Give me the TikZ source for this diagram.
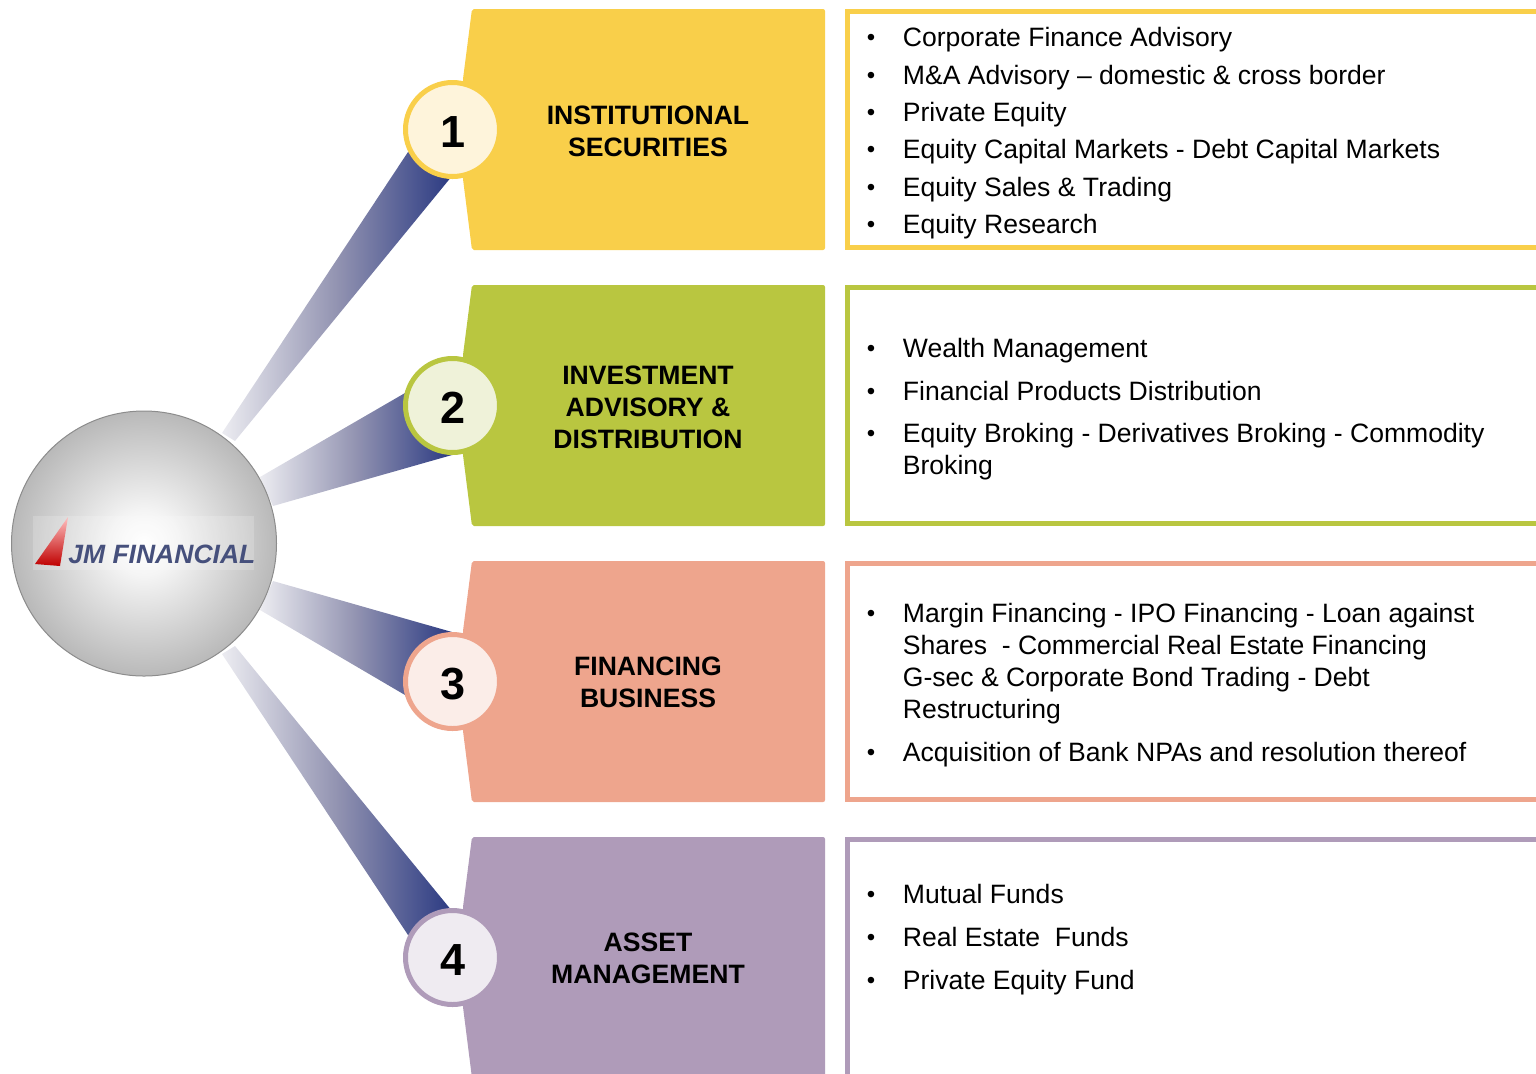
\documentclass[tikz,border=0pt]{standalone}
\usepackage{fontspec}
\setmainfont{Liberation Sans}
\usetikzlibrary{shadings}
\definecolor{cA}{HTML}{F9CF4A}\definecolor{cAl}{HTML}{FEF4DB}
\definecolor{cB}{HTML}{B9C640}\definecolor{cBl}{HTML}{EFF2D9}
\definecolor{cC}{HTML}{EEA58D}\definecolor{cCl}{HTML}{FBEDE8}
\definecolor{cD}{HTML}{AF9BB9}\definecolor{cDl}{HTML}{EFEBF1}
\definecolor{wdark}{HTML}{2B3A82}\definecolor{wmid}{HTML}{9293B1}\definecolor{wlight}{HTML}{ECECF1}
\definecolor{logoblue}{HTML}{46507C}
\pgfdeclareradialshading{spherefill}{\pgfpoint{0bp}{0bp}}{color(0bp)=(white); color(6bp)=(white!96!black); color(27bp)=(black!30); color(50bp)=(black!31)}
\tikzset{
 x=0.5pt,y=-0.5pt,
 wedge/.style={left color=wlight,right color=wdark,middle color=wmid,draw=none},
 tab/.style={fill=#1,draw=none,rounded corners=1pt},
 panel/.style={draw=#1,line width=2.5pt,fill=white},
 badge/.style n args={2}{circle,draw=#1,fill=#2,line width=2.5pt,minimum size=47pt,inner sep=0pt,font=\bfseries\fontsize{22.5pt}{24pt}\selectfont},
 title/.style={align=center,inner sep=0pt,font=\bfseries\fontsize{13.3pt}{16pt}\selectfont},
 itemtext/.style={anchor=base west,inner sep=0pt,font=\fontsize{13.28pt}{16pt}\selectfont},
 bul/.style={anchor=base,inner sep=0pt,font=\fontsize{12pt}{16pt}\selectfont},
}
\newcommand{\dg}[1]{\kern0.4pt\raisebox{-1.25pt}[\height][\depth]{#1}}
\begin{document}
\begin{tikzpicture}
\useasboundingbox (0,0) rectangle (1536,1073);
\clip (0,0) rectangle (1536,1073);
% wedges
\shade[wedge] (222,433) -- (408,152) -- (452,176) -- (235,441) -- cycle;
\shade[wedge] (260,477) -- (405,393) -- (452,455) -- (273,506) -- cycle;
\shade[wedge] (273,581) -- (452,632) -- (405,695) -- (260,610) -- cycle;
\shade[wedge] (222,654) -- (408,935) -- (452,911) -- (235,646) -- cycle;
% tabs
\foreach \t/\c in {9/cA,285/cB,561/cC,837/cD}{
 \fill[tab=\c] (472,\t) -- (825,\t) -- (825,\t+241) -- (472,\t+241) -- (463,\t+170) -- (463,\t+70) -- cycle;
}
% panels
\draw[panel=cA] (847.5,11.5) rectangle (1550,247.5);
\draw[panel=cB] (847.5,287.5) rectangle (1550,523.5);
\draw[panel=cC] (847.5,563.5) rectangle (1550,799.5);
\draw[panel=cD] (847.5,839.5) rectangle (1550,1085);
% sphere
\path[shading=spherefill,draw=black!45,line width=0.5pt] (144,543.5) circle [radius=132.5];
\node[name=sphere,circle,minimum size=132.5pt,inner sep=0pt] at (144,543.5) {};
% logo
\fill[white,opacity=.18] (33,516) rectangle (254,570);
\shade[top color=red!25!white,bottom color=red!75!black] (68,517) -- (35,564) -- (60,566) -- cycle;
\node[name=logo,anchor=base west,inner sep=0pt,text=logoblue,font=\bfseries\itshape\fontsize{13.25pt}{14pt}\selectfont] at (68,563) {JM FINANCIAL};
% badges
\node[badge={cA}{cAl},name=b1] at (452.5,129.5) {\dg{1}};
\node[badge={cB}{cBl},name=b2] at (452.5,405.5) {\dg{2}};
\node[badge={cC}{cCl},name=b3] at (452.5,681.5) {\dg{3}};
\node[badge={cD}{cDl},name=b4] at (452.5,957.5) {\dg{4}};
% titles
\node[title,name=t1] at (648,131.5) {INSTITUTIONAL\\SECURITIES};
\node[title,name=t2] at (648,407.5) {INVESTMENT\\ADVISORY \&\\DISTRIBUTION};
\node[title,name=t3] at (648,682.5) {FINANCING\\BUSINESS};
\node[title,name=t4] at (648,958.5) {ASSET\\MANAGEMENT};
% bullets
\foreach \y in {45,83,120,157,195,232,356,399,441,621,760,902,945,988}{
 \node[bul] at (871,\y) {•};
}
% list text
\node[itemtext] at (902.5,46) {Corporate Finance Advisory};
\node[itemtext] at (902.5,84) {M\&A Advisory – domestic \& cross border};
\node[itemtext] at (902.5,121) {Private Equity};
\node[itemtext] at (902.5,158) {Equity Capital Markets - Debt Capital Markets};
\node[itemtext] at (902.5,196) {Equity Sales \& Trading};
\node[itemtext] at (902.5,233) {Equity Research};
\node[itemtext] at (902.5,357) {Wealth Management};
\node[itemtext] at (902.5,400) {Financial Products Distribution};
\node[itemtext] at (902.5,442) {Equity Broking - Derivatives Broking - Commodity};
\node[itemtext] at (902.5,474) {Broking};
\node[itemtext] at (902.5,622) {Margin Financing - IPO Financing - Loan against};
\node[itemtext] at (902.5,654) {Shares\ \ - Commercial Real Estate Financing};
\node[itemtext] at (902.5,686) {G-sec \& Corporate Bond Trading - Debt};
\node[itemtext] at (902.5,718) {Restructuring};
\node[itemtext] at (902.5,761) {Acquisition of Bank NPAs and resolution thereof};
\node[itemtext] at (902.5,903) {Mutual Funds};
\node[itemtext] at (902.5,946) {Real Estate\ \ Funds};
\node[itemtext] at (902.5,989) {Private Equity Fund};
\end{tikzpicture}
\end{document}
